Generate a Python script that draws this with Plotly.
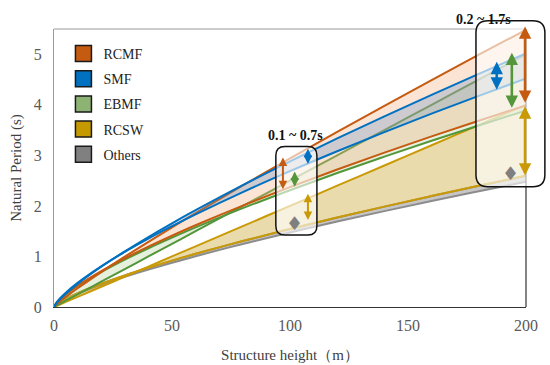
import plotly.graph_objects as go

# ---------------- data ----------------
height = [0, 1, 2.5, 5, 10, 20, 30, 40, 50, 60, 80, 100, 120, 140, 160, 180, 200]

rcmf_upper = [0, 0.047, 0.106, 0.198, 0.370, 0.691, 0.995, 1.289, 1.576, 1.857, 2.405, 2.940, 3.464, 3.980, 4.488, 4.991, 5.485]
rcmf_lower = [0, 0.075, 0.149, 0.251, 0.422, 0.709, 0.962, 1.193, 1.410, 1.617, 2.006, 2.372, 2.720, 3.053, 3.375, 3.686, 3.989]
smf_upper = [0, 0.072, 0.151, 0.262, 0.457, 0.796, 1.100, 1.385, 1.656, 1.915, 2.411, 2.882, 3.335, 3.772, 4.197, 4.613, 5.019]
smf_lower = [0, 0.085, 0.169, 0.284, 0.478, 0.804, 1.090, 1.352, 1.598, 1.833, 2.274, 2.688, 3.082, 3.461, 3.825, 4.177, 4.520]
ebmf_upper = [0, 0.025, 0.0625, 0.125, 0.25, 0.5, 0.75, 1.0, 1.25, 1.5, 2.0, 2.5, 3.0, 3.5, 4.0, 4.5, 5.0]
ebmf_lower = [0, 0.073, 0.145, 0.244, 0.411, 0.691, 0.937, 1.163, 1.374, 1.576, 1.955, 2.311, 2.651, 2.975, 3.289, 3.592, 3.888]
rcsw_upper = [0, 0.02, 0.05, 0.1, 0.2, 0.4, 0.6, 0.8, 1.0, 1.2, 1.6, 2.0, 2.4, 2.8, 3.2, 3.6, 4.0]
rcsw_lower = [0, 0.049, 0.097, 0.163, 0.274, 0.461, 0.626, 0.776, 0.917, 1.052, 1.305, 1.543, 1.769, 1.986, 2.195, 2.398, 2.595]
others_upper = [0, 0.049, 0.097, 0.163, 0.274, 0.461, 0.626, 0.776, 0.917, 1.052, 1.305, 1.543, 1.769, 1.986, 2.195, 2.398, 2.595]
others_lower = [0, 0.047, 0.093, 0.156, 0.262, 0.441, 0.597, 0.741, 0.876, 1.005, 1.247, 1.473, 1.690, 1.897, 2.097, 2.290, 2.478]

categories = ["RCMF", "SMF", "EBMF", "RCSW", "Others"]

# range arrows: (x, y_low, y_high)
arrows_mid = {"RCMF": (97, 2.30, 2.96), "SMF": (107.6, 2.80, 3.13),
              "EBMF": (102, 2.35, 2.68), "RCSW": (107.6, 1.69, 2.24)}
arrows_top = {"RCMF": (199.6, 4.01, 5.55), "SMF": (187.6, 4.27, 4.85),
              "EBMF": (194, 3.91, 5.03), "RCSW": (199.6, 2.57, 3.97)}
others_marks_x = [101.7, 193.6]
others_marks_y = [1.67, 2.65]

range_labels = ["0.1 ~ 0.7s", "0.2 ~ 1.7s"]

x_ticks = [0, 50, 100, 150, 200]
y_ticks = [0, 1, 2, 3, 4, 5]

# ---------------- styles ----------------
line_col = {"RCMF": "#C55A11", "SMF": "#0070C0", "EBMF": "#54963A", "RCSW": "#C99A06", "Others": "#8C8C8C"}
fill_col = {"RCMF": "rgba(244,177,131,0.35)", "SMF": "rgba(91,140,196,0.28)",
            "EBMF": "rgba(169,209,142,0.30)", "RCSW": "rgba(201,160,40,0.38)",
            "Others": "rgba(128,128,128,0.45)"}
legend_col = {"RCMF": "#C55A11", "SMF": "#0070C0", "EBMF": "#8DB374", "RCSW": "#C59A00", "Others": "#808080"}
SERIF = "Liberation Serif, Times New Roman, serif"

bands = {"Others": (others_lower, others_upper), "RCSW": (rcsw_lower, rcsw_upper),
         "EBMF": (ebmf_lower, ebmf_upper), "RCMF": (rcmf_lower, rcmf_upper),
         "SMF": (smf_lower, smf_upper)}

fig = go.Figure()
for name, (lo, up) in bands.items():
    fig.add_trace(go.Scatter(x=height, y=lo, mode="lines", line=dict(color=line_col[name], width=2, shape="spline"),
                             showlegend=False, hoverinfo="skip"))
    fig.add_trace(go.Scatter(x=height, y=up, mode="lines", line=dict(color=line_col[name], width=2, shape="spline"),
                             fill="tonexty", fillcolor=fill_col[name], showlegend=False, hoverinfo="skip"))

# legend entries
for i, name in enumerate(categories):
    fig.add_trace(go.Scatter(x=[None], y=[None], mode="markers", name=name, legendgroup=name,
                             marker=dict(symbol="square", size=16, color=legend_col[name],
                                         line=dict(color="#1a1a1a", width=1.5))))

# rounded boxes (paper coords; plot area maps x/200, y/5.5)
def rounded(x0, y0, x1, y1, rpx, wpx=472, hpx=278):
    rx, ry = rpx / wpx, rpx / hpx
    return (f"M {x0+rx},{y1} L {x1-rx},{y1} Q {x1},{y1} {x1},{y1-ry} "
            f"L {x1},{y0+ry} Q {x1},{y0} {x1-rx},{y0} L {x0+rx},{y0} Q {x0},{y0} {x0},{y0+ry} "
            f"L {x0},{y1-ry} Q {x0},{y1} {x0+rx},{y1} Z")

shapes = [
    dict(type="line", xref="paper", yref="paper", x0=0, x1=1, y0=1, y1=1, line=dict(color="#9a9a9a", width=1.2)),
    dict(type="line", xref="paper", yref="paper", x0=1, x1=1, y0=0, y1=1, line=dict(color="#333333", width=1.2)),
    dict(type="path", xref="paper", yref="paper", path=rounded(0.470, 0.259, 0.557, 0.577, 9),
         fillcolor="rgba(255,255,255,0.62)", line=dict(color="#111111", width=1.5), layer="above"),
    dict(type="path", xref="paper", yref="paper", path=rounded(0.894, 0.433, 1.040, 1.030, 12),
         fillcolor="rgba(255,255,255,0.62)", line=dict(color="#111111", width=1.5), layer="above"),
]

annotations = []
for arrows, w, sz in ((arrows_mid, 2.0, 0.85), (arrows_top, 2.6, 0.95)):
    for name, (ax_, lo, hi) in arrows.items():
        annotations.append(dict(x=ax_, y=hi, ax=ax_, ay=lo, xref="x", yref="y", axref="x", ayref="y",
                                text="", showarrow=True, arrowhead=2, startarrowhead=2, arrowside="end+start",
                                arrowsize=sz, startarrowsize=sz, arrowwidth=w, arrowcolor=line_col[name],
                                standoff=0, startstandoff=0))
for mx, my in zip(others_marks_x, others_marks_y):
    annotations.append(dict(x=mx, y=my, xref="x", yref="y", text="\u2666", showarrow=False,
                            font=dict(family="DejaVu Sans", size=19, color="#7f7f7f")))
annotations.append(dict(x=(295 - 54) / 472, y=(307 - 135) / 278, xref="paper", yref="paper",
                        text=f"<b>{range_labels[0]}</b>", showarrow=False,
                        font=dict(family=SERIF, size=14, color="#111111")))
annotations.append(dict(x=(513 - 54) / 472, y=(307 - 10) / 278, xref="paper", yref="paper",
                        text=f"<b>{range_labels[1]}</b>", showarrow=False,
                        font=dict(family=SERIF, size=14, color="#111111")))

fig.update_layout(
    width=550, height=365,
    margin=dict(l=54, r=24, t=29, b=58, autoexpand=False),
    plot_bgcolor="white", paper_bgcolor="white",
    shapes=shapes, annotations=annotations,
    legend=dict(x=0.02, y=0.968, xanchor="left", yanchor="top", tracegroupgap=4,
                font=dict(family=SERIF, size=14, color="#222222"), bgcolor="rgba(0,0,0,0)"),
    xaxis=dict(range=[0, 200], tickvals=x_ticks, showgrid=False, zeroline=False, showline=True,
               linecolor="#333333", linewidth=1.2, ticks="", ticklen=0, automargin=False,
               ticklabelstandoff=4,
               tickfont=dict(family=SERIF, size=16, color="#595959"),
               title=dict(text="Structure height（m）", font=dict(family=SERIF, size=15, color="#404040"), standoff=16)),
    yaxis=dict(range=[0, 5.5], tickvals=y_ticks, showgrid=False, zeroline=False, showline=True,
               linecolor="#9a9a9a", linewidth=1.2, ticks="", ticklen=0, automargin=False,
               ticklabelstandoff=8,
               tickfont=dict(family=SERIF, size=16, color="#595959"),
               title=dict(text="Natural Period (s)", font=dict(family=SERIF, size=15, color="#404040"), standoff=8)),
)

fig.write_html("out.html", config={"displayModeBar": False},
               post_script="document.body.style.margin='0';document.body.style.overflow='hidden';")
